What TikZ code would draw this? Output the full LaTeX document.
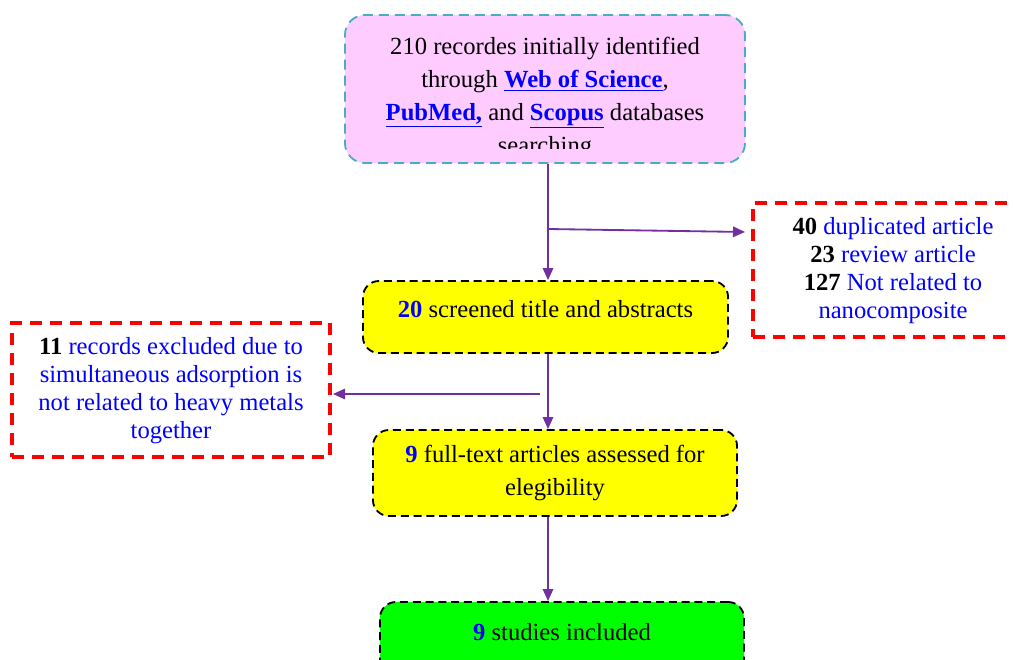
\documentclass[tikz,border=0pt]{standalone}
\usepackage{fontspec}
\setmainfont{Liberation Serif}
\usetikzlibrary{arrows.meta}

\definecolor{searchFill}{HTML}{FFCCFF}
\definecolor{searchLine}{HTML}{4BACC6}
\definecolor{flowColor}{HTML}{7030A0}
\definecolor{noteBlue}{HTML}{0000FF}
\definecolor{cutRed}{HTML}{FF0000}
\definecolor{stageYellow}{HTML}{FFFF00}
\definecolor{keptGreen}{HTML}{00FF00}

\newcommand{\dblink}[1]{{\color{noteBlue}\underline{\textbf{#1}}}}
\newcommand{\num}[1]{{\color{black}\textbf{#1}}}
\newcommand{\bnum}[1]{{\color{noteBlue}\textbf{#1}}}

\tikzset{
  txt/.style={font=\fontsize{17.5pt}{23.5pt}\selectfont, align=center},
  stagebox/.style={draw=black, dash pattern=on 0.2cm off 0.12cm, line width=1.3pt,
    rounded corners=0.4cm, fill=stageYellow, txt},
  cutbox/.style={draw=cutRed, dash pattern=on 0.3cm off 0.2cm, line width=2.4pt,
    fill=white, text=noteBlue, txt, font=\fontsize{17.5pt}{20pt}\selectfont},
  flow/.style={draw=flowColor, line width=1.3pt, -{Triangle[length=0.3cm,width=0.26cm]}}
}

\begin{document}
\begin{tikzpicture}[x=0.025cm, y=-0.025cm]
  \useasboundingbox (0,0) rectangle (1013,659);
  \clip (0,0) rectangle (1013,659);
  % Identification
  \node[draw=searchLine, dash pattern=on 0.25cm off 0.15cm, line width=1.3pt,
    rounded corners=0.5cm, fill=searchFill, minimum width=10cm, minimum height=3.7cm]
    (search) at (545,89) {};
  \begin{scope}
    \clip (345,15) rectangle (745,148);
    \node[txt] (searchtxt) at (545,98)
      {210 recordes initially identified\\
       through \dblink{Web of Science},\\
       \dblink{PubMed,} and \dblink{Scopus} databases\\
       searching};
  \end{scope}
  % Screening
  \node[stagebox, text depth=0.42cm, minimum width=9.125cm, minimum height=1.8cm]
    (screen) at (545.5,317) {\bnum{20} screened title and abstracts};
  \node[stagebox, minimum width=9.1cm, minimum height=2.15cm] (full) at (555,473)
    {\bnum{9} full-text articles assessed for\\ elegibility};
  \node[stagebox, fill=keptGreen, text depth=0.42cm, minimum width=9.1cm, minimum height=1.9cm]
    (incl) at (562,640) {\bnum{9} studies included};
  % Excluded
  \node[cutbox, text depth=0.1cm, minimum width=7cm, minimum height=3.35cm] (dup) at (893,270)
    {\num{40} duplicated article\\
     \num{23} review article\\
     \num{127} Not related to\\
     nanocomposite};
  \node[cutbox, text depth=0.1cm, minimum width=7.95cm, minimum height=3.35cm] (heavy) at (171,390)
    {\num{11} records excluded due to\\
     simultaneous adsorption is\\
     not related to heavy metals\\
     together};
  % Connectors
  \coordinate (j1) at (548,229);
  \coordinate (j1e) at (745,232);
  \coordinate (j2) at (548,394);
  \coordinate (j2s) at (540,394);
  \coordinate (j2e) at (333,394);
  \draw[flow] (search.south -| j1) -- (screen.north -| j1);
  \draw[flow] (j1) -- (j1e);
  \draw[flow] (screen.south -| j2) -- (full.north -| j2);
  \draw[flow] (j2s) -- (j2e);
  \draw[flow] (full.south -| j2) -- (incl.north -| j2);
\end{tikzpicture}
\end{document}
